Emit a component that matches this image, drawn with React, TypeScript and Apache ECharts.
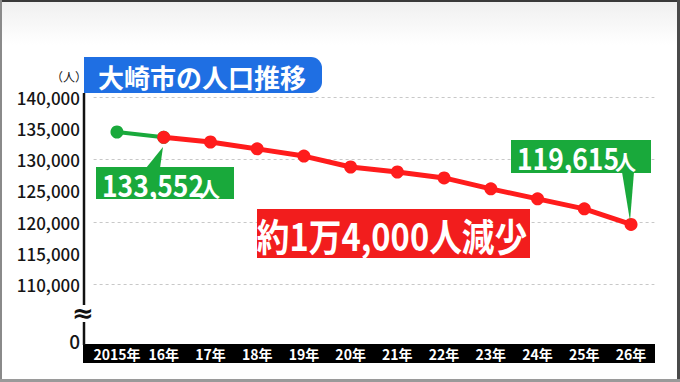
import React, { useEffect, useRef } from "react";
import * as echarts from "echarts";

const years = ["2015年", "16年", "17年", "18年", "19年", "20年", "21年", "22年", "23年", "24年", "25年", "26年"];
const population = [134400, 133552, 132800, 131700, 130550, 128800, 128000, 127050, 125300, 123700, 122100, 119615];
const yMin = 100000;
const yMax = 140000;
const labelInterval = 5000;
const gridInterval = 10000;
const title = "大崎市の人口推移";
const unitLabel = "（人）";
const startLabel = "133,552";
const endLabel = "119,615";
const changeLabel = "約1万4,000人減少";

const FONT = "'Noto Sans CJK JP', 'Noto Sans', sans-serif";
const GREEN = "#19a93b";
const RED = "#f21d1d";
const BLUE = "#1f6fe3";

export default function App() {
  const ref = useRef<HTMLDivElement>(null);
  useEffect(() => {
    if (!ref.current) return;
    const chart = echarts.init(ref.current, null, { renderer: "svg" });
    const greenData = population.map((v, i) => (i <= 1 ? v : null));
    const redData = population.map((v, i) => (i >= 1 ? v : null));
    chart.setOption({
      animation: false,
      backgroundColor: "#ffffff",
      textStyle: { fontFamily: FONT },
      grid: { left: 93.6, right: 25.6, top: 97, bottom: 35, containLabel: false },
      xAxis: {
        type: "category",
        data: years,
        boundaryGap: true,
        z: 10,
        axisLine: { show: false },
        axisTick: { show: false },
        axisLabel: {
          color: "#ffffff",
          fontFamily: FONT,
          fontWeight: "bold",
          fontSize: 14,
          lineHeight: 14,
          margin: -0.5,
          interval: 0,
        },
      },
      yAxis: [
        {
          type: "value",
          min: yMin,
          max: yMax,
          interval: labelInterval,
          axisLine: { show: false },
          axisTick: { show: false },
          splitLine: { show: false },
          axisLabel: {
            color: "#151515",
            fontFamily: FONT,
            fontSize: 17,
            fontWeight: 500,
            margin: 13.6,
            formatter: (v: number) => (v >= 110000 ? v.toLocaleString("en-US") : ""),
          },
        },
        {
          type: "value",
          min: yMin,
          max: yMax,
          interval: gridInterval,
          position: "left",
          axisLine: { show: false },
          axisTick: { show: false },
          axisLabel: { show: false },
          splitLine: { show: true, lineStyle: { color: "#c8c8c8", type: [3, 3], width: 1 } },
        },
      ],
      series: [
        {
          type: "line",
          data: greenData,
          yAxisIndex: 0,
          symbol: "circle",
          symbolSize: 13,
          lineStyle: { color: GREEN, width: 4 },
          itemStyle: { color: GREEN },
          z: 2,
        },
        {
          type: "line",
          data: redData,
          yAxisIndex: 0,
          symbol: "circle",
          symbolSize: 13,
          lineStyle: { color: "#ff1c1c", width: 5 },
          itemStyle: { color: "#ff1c1c" },
          z: 3,
        },
      ],
      graphic: [
        {
          type: "rect",
          z: -10,
          shape: { x: 0, y: 0, width: 680, height: 45 },
          style: {
            fill: new echarts.graphic.LinearGradient(0, 0, 0, 1, [
              { offset: 0, color: "#efefef" },
              { offset: 1, color: "#ffffff" },
            ]),
          },
        },
        { type: "rect", z: 50, shape: { x: 0, y: 0, width: 680, height: 2 }, style: { fill: "#3a3a3a" } },
        { type: "rect", z: 50, shape: { x: 0, y: 0, width: 2, height: 382 }, style: { fill: "#8a8a8a" } },
        { type: "rect", z: 50, shape: { x: 677, y: 0, width: 3, height: 382 }, style: { fill: "#4a4a4a" } },
        { type: "rect", z: 50, shape: { x: 0, y: 379, width: 680, height: 3 }, style: { fill: "#9a9a9a" } },
        // x axis band
        { type: "rect", z: 5, shape: { x: 83, y: 344, width: 572, height: 19 }, style: { fill: "#000000" } },
        // y axis line with break
        { type: "line", z: 5, shape: { x1: 84, y1: 93, x2: 84, y2: 305 }, style: { stroke: "#111111", lineWidth: 2.5 } },
        { type: "line", z: 5, shape: { x1: 84, y1: 322, x2: 84, y2: 345 }, style: { stroke: "#111111", lineWidth: 2.5 } },
        {
          type: "text",
          z: 5,
          x: 83,
          y: 313,
          style: {
            text: "≈",
            fontFamily: "'DejaVu Sans', sans-serif",
            fontSize: 26,
            fontWeight: "bold",
            fill: "#111111",
            align: "center",
            verticalAlign: "middle",
          },
        },
        {
          type: "text",
          z: 5,
          x: 80,
          y: 340,
          style: { text: "0", fontFamily: FONT, fontSize: 19, fontWeight: 500, fill: "#151515", align: "right", verticalAlign: "middle" },
        },
        {
          type: "text",
          z: 5,
          x: 69,
          y: 76,
          style: { text: unitLabel, fontFamily: FONT, fontSize: 12, fill: "#151515", align: "center", verticalAlign: "middle" },
        },
        // title
        {
          type: "rect",
          z: 20,
          shape: { x: 84, y: 57, width: 238, height: 36, r: [0, 11, 11, 0] },
          style: { fill: BLUE },
        },
        {
          type: "text",
          z: 21,
          x: 202,
          y: 76,
          style: {
            text: title,
            fontFamily: FONT,
            fontSize: 26,
            fontWeight: "bold",
            fill: "#ffffff",
            align: "center",
            verticalAlign: "middle",
          },
        },
        // start callout
        {
          type: "polygon",
          z: 20,
          shape: { points: [[146, 168], [160, 168], [163, 147]] },
          style: { fill: GREEN },
        },
        { type: "rect", z: 20, shape: { x: 96, y: 167, width: 138, height: 32 }, style: { fill: GREEN } },
        {
          type: "text",
          z: 21,
          x: 102,
          y: 184,
          scaleX: 0.88,
          style: {
            text: startLabel,
            fontFamily: FONT,
            fontSize: 30,
            fontWeight: "bold",
            fill: "#ffffff",
            align: "left",
            verticalAlign: "middle",
          },
        },
        {
          type: "text",
          z: 21,
          x: 199,
          y: 188,
          style: { text: "人", fontFamily: FONT, fontSize: 21, fontWeight: "bold", fill: "#ffffff", align: "left", verticalAlign: "middle" },
        },
        // end callout
        {
          type: "polygon",
          z: 20,
          shape: { points: [[622, 172], [634, 172], [630, 221]] },
          style: { fill: GREEN },
        },
        { type: "rect", z: 20, shape: { x: 511, y: 140, width: 140, height: 33 }, style: { fill: GREEN } },
        {
          type: "text",
          z: 21,
          x: 517,
          y: 157,
          scaleX: 0.88,
          style: {
            text: endLabel,
            fontFamily: FONT,
            fontSize: 30,
            fontWeight: "bold",
            fill: "#ffffff",
            align: "left",
            verticalAlign: "middle",
          },
        },
        {
          type: "text",
          z: 21,
          x: 615,
          y: 161,
          style: { text: "人", fontFamily: FONT, fontSize: 21, fontWeight: "bold", fill: "#ffffff", align: "left", verticalAlign: "middle" },
        },
        // change label
        { type: "rect", z: 20, shape: { x: 257, y: 209, width: 273, height: 49 }, style: { fill: RED } },
        {
          type: "text",
          z: 21,
          x: 392,
          y: 234,
          scaleX: 0.86,
          style: {
            text: changeLabel,
            fontFamily: FONT,
            fontSize: 38,
            fontWeight: "bold",
            fill: "#ffffff",
            align: "center",
            verticalAlign: "middle",
          },
        },
      ],
    });
    return () => chart.dispose();
  }, []);
  return <div ref={ref} style={{ position: "fixed", left: 0, top: 0, width: 680, height: 382 }} />;
}
